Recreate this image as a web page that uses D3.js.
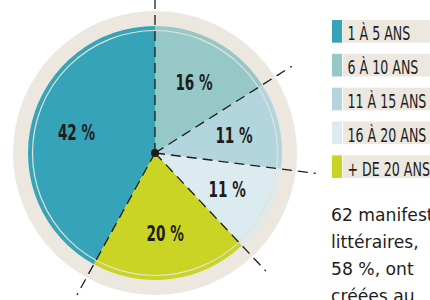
<!DOCTYPE html>
<html>
<head>
<meta charset="utf-8">
<script src="https://cdn.jsdelivr.net/npm/d3@7"></script>
<style>
  body { margin: 0; background: #fff; }
  svg { display: block; }
  .leg text { font-family: "DejaVu Sans Condensed", sans-serif; font-size: 19.5px; fill: #1d1d1b; }
  .lbl { font-family: "DejaVu Sans Condensed", sans-serif; font-size: 21px; font-weight: bold; fill: #1d1d1b; }
  .para { font-family: "DejaVu Sans", sans-serif; font-size: 17.2px; fill: #1d1d1b; }
</style>
</head>
<body>
<div id="chart"></div>
<script>
// data
var categories = ["1 À 5 ANS", "6 À 10 ANS", "11 À 15 ANS", "16 À 20 ANS", "+ DE 20 ANS"];
var values = [42, 16, 11, 11, 20];
var labels = ["42 %", "16 %", "11 %", "11 %", "20 %"];
var colors = ["#35a3b8", "#97c8c8", "#b3d6de", "#dcebef", "#cad424"];
var paraLines = ["62 manifestations", "littéraires,", "58 %, ont", "créées au"];

const width = 430, height = 300;
const cx = 155, cy = 153;
const rRing = 142, rPie = 127, rThin = 122.5, rLine = 162, rLabel = 81;

const svg = d3.select("#chart")
  .append("svg")
  .attr("width", width)
  .attr("height", height);

const g = svg.append("g").attr("transform", `translate(${cx}, ${cy})`);

// beige ring behind the pie
g.append("circle").attr("r", rRing).attr("fill", "#ece8df");

// 1 à 5 ans ends at 12 o'clock, the others follow clockwise
const total = d3.sum(values);
const start = -2 * Math.PI * values[0] / total;
const pie = d3.pie().sort(null).startAngle(start).endAngle(start + 2 * Math.PI);
const arcs = pie(values);

const arc = d3.arc().innerRadius(0).outerRadius(rPie);
g.selectAll("path.slice")
  .data(arcs)
  .join("path")
  .attr("class", "slice")
  .attr("d", arc)
  .attr("fill", (d, i) => colors[i]);

// thin light circle just inside the edge
g.append("circle")
  .attr("r", rThin)
  .attr("fill", "none")
  .attr("stroke", "#e6e1d6")
  .attr("stroke-width", 1.2);

// dashed separators, running out past the ring
g.selectAll("line.sep")
  .data(arcs)
  .join("line")
  .attr("class", "sep")
  .attr("x1", 0).attr("y1", 0)
  .attr("x2", d => d3.pointRadial(d.startAngle, rLine)[0])
  .attr("y2", d => d3.pointRadial(d.startAngle, rLine)[1])
  .attr("stroke", "#1d1d1b")
  .attr("stroke-width", 1.3)
  .attr("stroke-dasharray", "10,6");

g.append("circle").attr("r", 4).attr("fill", "#1d1d1b");

// percentages
const labelArc = d3.arc().innerRadius(rLabel).outerRadius(rLabel);
g.selectAll("text.lbl")
  .data(arcs)
  .join("text")
  .attr("class", "lbl")
  .attr("text-anchor", "middle")
  .attr("transform", d => {
    const [x, y] = labelArc.centroid(d);
    return `translate(${x}, ${y + 7.5}) scale(0.72, 1)`;
  })
  .text((d, i) => labels[i]);

// legend
const leg = svg.append("g").attr("class", "leg").attr("transform", "translate(332, 20)");
const row = d3.scaleBand().domain(categories).range([0, 158]).paddingInner(0.33).paddingOuter(0);

const item = leg.selectAll("g")
  .data(categories)
  .join("g")
  .attr("transform", d => `translate(0, ${row(d)})`);

item.append("rect")
  .attr("width", 10)
  .attr("height", row.bandwidth())
  .attr("fill", (d, i) => colors[i]);

item.append("rect")
  .attr("x", 11)
  .attr("width", 100)
  .attr("height", row.bandwidth())
  .attr("fill", "#ece8df");

item.append("text")
  .attr("transform", `translate(15.5, ${row.bandwidth() - 2.5}) scale(0.72, 1)`)
  .text(d => d);

// paragraph cut off at the right and bottom
svg.append("g")
  .selectAll("text")
  .data(paraLines)
  .join("text")
  .attr("class", "para")
  .attr("x", 331)
  .attr("y", (d, i) => 220.5 + i * 27)
  .text(d => d);
</script>
</body>
</html>
